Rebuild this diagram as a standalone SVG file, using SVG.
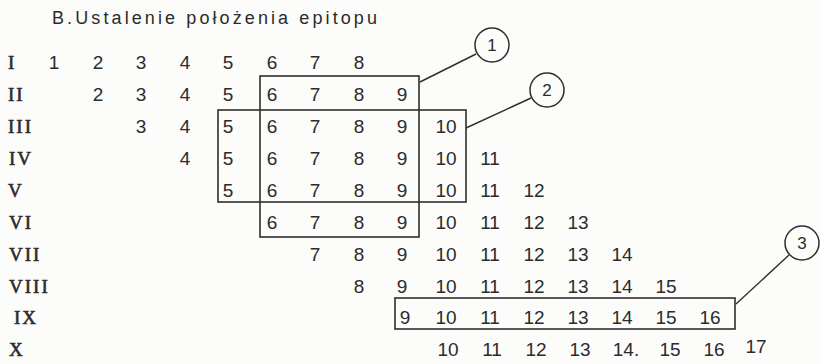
<svg xmlns="http://www.w3.org/2000/svg" width="820" height="364" viewBox="0 0 820 364">
  <style>
    .bg { fill: #fcfcfa; }
    .title { font-family: "Liberation Sans", Arial, sans-serif; font-size: 18px; fill: #2b2b2b; }
    .lbl { font-family: "Liberation Serif", "Times New Roman", serif; font-size: 19px; fill: #2b2b2b; stroke: #2b2b2b; stroke-width: 0.6; letter-spacing: 2px; }
    .num { font-family: "Liberation Sans", Arial, sans-serif; font-size: 19px; fill: #2b2b2b; text-anchor: middle; }
    .box { fill: none; stroke: #2e2e2e; stroke-width: 1.6; }
    .lead { fill: none; stroke: #2e2e2e; stroke-width: 1.4; }
    .circ { fill: none; stroke: #2e2e2e; stroke-width: 1.5; }
    .cnum { font-family: "Liberation Sans", Arial, sans-serif; font-size: 17px; fill: #2b2b2b; text-anchor: middle; }
  </style>
  <rect class="bg" x="0" y="0" width="820" height="364"/>

  <text id="title" class="title" x="52" y="24" textLength="325" lengthAdjust="spacing">B.Ustalenie położenia epitopu</text>

  <!-- row labels -->
  <g id="labels">
    <text class="lbl" x="8" y="69">I</text>
    <text class="lbl" x="8" y="101">II</text>
    <text class="lbl" x="8" y="133">III</text>
    <text class="lbl" x="9" y="165">IV</text>
    <text class="lbl" x="8" y="197">V</text>
    <text class="lbl" x="9" y="229">VI</text>
    <text class="lbl" x="9" y="261">VII</text>
    <text class="lbl" x="9" y="293">VIII</text>
    <text class="lbl" x="14" y="324">IX</text>
    <text class="lbl" x="9" y="356">X</text>
  </g>

  <!-- number rows; columns at 54,98,141,185,228,272,315,359,402,446,490,534,578,622,666,710,754 -->
  <g id="row-1" class="num">
    <text x="54" y="69">1</text><text x="98" y="69">2</text><text x="141" y="69">3</text><text x="185" y="69">4</text>
    <text x="228" y="69">5</text><text x="272" y="69">6</text><text x="315" y="69">7</text><text x="359" y="69">8</text>
  </g>
  <g id="row-2" class="num">
    <text x="98" y="101">2</text><text x="141" y="101">3</text><text x="185" y="101">4</text><text x="228" y="101">5</text>
    <text x="272" y="101">6</text><text x="315" y="101">7</text><text x="359" y="101">8</text><text x="402" y="101">9</text>
  </g>
  <g id="row-3" class="num">
    <text x="141" y="133">3</text><text x="185" y="133">4</text><text x="228" y="133">5</text><text x="272" y="133">6</text>
    <text x="315" y="133">7</text><text x="359" y="133">8</text><text x="402" y="133">9</text><text x="446" y="133">10</text>
  </g>
  <g id="row-4" class="num">
    <text x="185" y="165">4</text><text x="228" y="165">5</text><text x="272" y="165">6</text><text x="315" y="165">7</text>
    <text x="359" y="165">8</text><text x="402" y="165">9</text><text x="446" y="165">10</text><text x="490" y="165">11</text>
  </g>
  <g id="row-5" class="num">
    <text x="228" y="197">5</text><text x="272" y="197">6</text><text x="315" y="197">7</text><text x="359" y="197">8</text>
    <text x="402" y="197">9</text><text x="446" y="197">10</text><text x="490" y="197">11</text><text x="534" y="197">12</text>
  </g>
  <g id="row-6" class="num">
    <text x="272" y="229">6</text><text x="315" y="229">7</text><text x="359" y="229">8</text><text x="402" y="229">9</text>
    <text x="446" y="229">10</text><text x="490" y="229">11</text><text x="534" y="229">12</text><text x="578" y="229">13</text>
  </g>
  <g id="row-7" class="num">
    <text x="315" y="261">7</text><text x="359" y="261">8</text><text x="402" y="261">9</text><text x="446" y="261">10</text>
    <text x="490" y="261">11</text><text x="534" y="261">12</text><text x="578" y="261">13</text><text x="622" y="261">14</text>
  </g>
  <g id="row-8" class="num">
    <text x="359" y="293">8</text><text x="402" y="293">9</text><text x="446" y="293">10</text><text x="490" y="293">11</text>
    <text x="534" y="293">12</text><text x="578" y="293">13</text><text x="622" y="293">14</text><text x="666" y="293">15</text>
  </g>
  <g id="row-9" class="num">
    <text x="405" y="324">9</text><text x="446" y="324">10</text><text x="490" y="324">11</text><text x="534" y="324">12</text>
    <text x="578" y="324">13</text><text x="622" y="324">14</text><text x="666" y="324">15</text><text x="710" y="324">16</text>
  </g>
  <g id="row-10" class="num">
    <text x="448" y="356">10</text><text x="492" y="356">11</text><text x="536" y="356">12</text><text x="580" y="356">13</text>
    <text x="626" y="356">14.</text><text x="670" y="356">15</text><text x="714" y="356">16</text><text x="756" y="353">17</text>
  </g>

  <!-- framed groups -->
  <g id="frame-1"><rect class="box" x="260" y="76" width="159" height="161"/></g>
  <g id="frame-2"><rect class="box" x="218" y="110" width="248" height="92"/></g>
  <g id="frame-3"><rect class="box" x="395" y="298" width="340" height="31"/></g>

  <!-- numbered callouts -->
  <g id="callout-1"><circle class="circ" cx="492" cy="45" r="17"/><text class="cnum" x="492" y="51">1</text></g>
  <g id="callout-2"><circle class="circ" cx="547" cy="90" r="17"/><text class="cnum" x="547" y="96">2</text></g>
  <g id="callout-3"><circle class="circ" cx="802" cy="243" r="17"/><text class="cnum" x="802" y="249">3</text></g>

  <!-- leader lines -->
  <g id="connectors">
    <line class="lead" x1="420" y1="82" x2="476" y2="54"/>
    <line class="lead" x1="466" y1="128" x2="531" y2="98"/>
    <line class="lead" x1="736" y1="304" x2="789" y2="255"/>
  </g>
</svg>
